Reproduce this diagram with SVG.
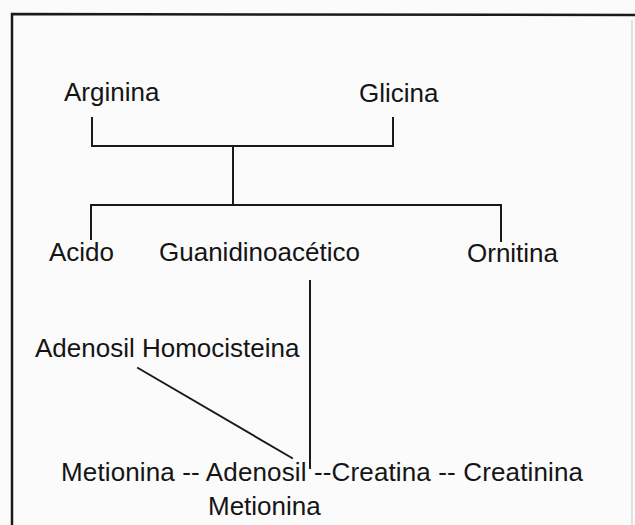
<svg xmlns="http://www.w3.org/2000/svg" width="635" height="525" viewBox="0 0 635 525">
<style>
.t{font-family:"Liberation Sans",Arial,Helvetica,sans-serif;font-size:26px;fill:#151515}
.c{stroke:#1a1a1a;stroke-width:2;fill:none;stroke-linecap:square}
.f{stroke:#1a1a1a;stroke-width:2.5;fill:none}
</style>
<rect width="635" height="525" fill="#fbfbfb"/>
<g id="frame">
<path class="f" d="M12,525 L12,14 L635,15"/>
<line x1="632" y1="20" x2="632" y2="525" stroke="#d8d8d8" stroke-width="1.5"/>
</g>
<g id="connectors">
<path class="c" d="M92,118 L92,146 L393,146 L393,118"/>
<path class="c" d="M233,146 L233,205"/>
<path class="c" d="M91,239 L91,205 L501,205 L501,241"/>
<path class="c" d="M310,281 L310,468"/>
<path class="c" d="M138,368 L292,458" stroke-width="1.5"/>
</g>
<g id="arginina"><text class="t" x="64" y="101">Arginina</text></g>
<g id="glicina"><text class="t" x="359" y="102">Glicina</text></g>
<g id="acido"><text class="t" x="49" y="261">Acido</text></g>
<g id="guanidinoacetico"><text class="t" x="159" y="261">Guanidinoacético</text></g>
<g id="ornitina"><text class="t" x="467" y="262">Ornitina</text></g>
<g id="adenosil-homocisteina"><text class="t" x="35" y="357">Adenosil Homocisteina</text></g>
<g id="cadena"><text class="t" x="61" y="481" textLength="522">Metionina -- Adenosil --Creatina -- Creatinina</text></g>
<g id="metionina2"><text class="t" x="208" y="515">Metionina</text></g>
</svg>
